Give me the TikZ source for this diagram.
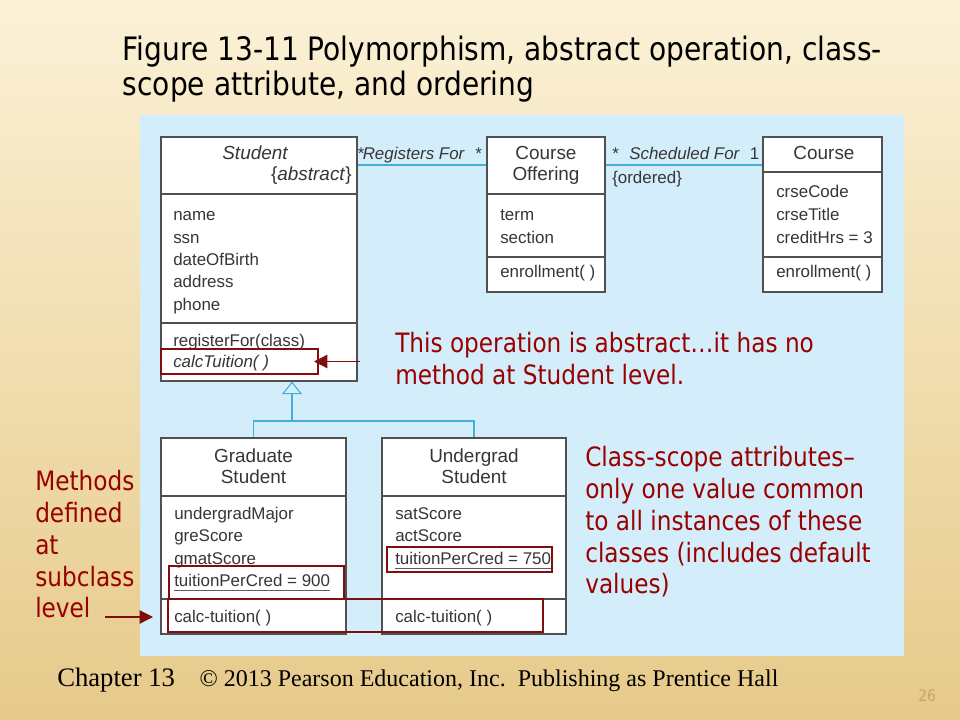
\documentclass[tikz,border=0pt]{standalone}
\usepackage{fontspec}
\setmainfont{Liberation Sans}
\newfontfamily\slidefont{DejaVu Sans}[FakeStretch=0.87]
\newfontfamily\footfont{Liberation Serif}
\usetikzlibrary{fit,arrows.meta}

\definecolor{slideTop}{HTML}{FBF1D6}
\definecolor{slideMid}{HTML}{F1DCA6}
\definecolor{slideBot}{HTML}{E6CA8A}
\definecolor{panelBlue}{HTML}{D3EEFA}
\definecolor{boxGray}{HTML}{505050}
\definecolor{umlText}{HTML}{363636}
\definecolor{linkBlue}{HTML}{45B0D5}
\definecolor{noteRed}{HTML}{990000}
\definecolor{hiRed}{HTML}{7F0F0F}
\definecolor{pageTan}{HTML}{C9A465}

\newcommand\umlfont{\fontsize{12.7}{15}\selectfont}
\newcommand\umlhead{\fontsize{14.2}{17}\selectfont}
\newcommand\notefont{\slidefont\fontsize{20}{24}\selectfont}
\newcommand\headfont{\slidefont\fontsize{24.2}{28}\selectfont}

\tikzset{
	cls/.style={draw=boxGray, fill=white, line width=0.8pt, inner sep=0pt},
	divider/.style={draw=boxGray, line width=0.8pt},
	member/.style={anchor=base west, inner sep=0pt, text=umlText, font=\umlfont},
	hdr/.style={member, anchor=base, font=\umlhead},
	note/.style={anchor=base west, inner sep=0pt, text=noteRed, font=\notefont},
	hilite/.style={draw=hiRed, line width=1.5pt, inner sep=0pt},
	assoc/.style={draw=linkBlue, line width=0.8pt},
	pointer/.style={draw=hiRed, line width=0.9pt, -{Triangle[length=10pt,width=10pt]}},
}

\begin{document}
\begin{tikzpicture}[x=0.75pt,y=-0.75pt]
	\shade[top color=slideTop, middle color=slideMid, bottom color=slideBot] (0,0) rectangle (960,720);
	\fill[panelBlue] (140,115) rectangle (904,656);

	\node[anchor=base west, inner sep=0pt, font=\headfont] (title1) at (122.5,61) {Figure 13-11 Polymorphism, abstract operation, class-};
	\node[anchor=base west, inner sep=0pt, font=\headfont] (title2) at (122.5,95.5) {scope attribute, and ordering};

	\node[cls, fit={(161,137)(357,381)}] (student) {};
	\node[cls, fit={(487,137)(605,292)}] (offering) {};
	\node[cls, fit={(763,137)(882,292)}] (course) {};
	\node[cls, fit={(161,438)(346,634)}] (grad) {};
	\node[cls, fit={(382,438)(566,634)}] (under) {};
	\foreach \xa/\xb/\yy in {161/357/194, 161/357/323, 487/605/194, 487/605/257, 763/882/172, 763/882/257, 161/346/496, 161/346/599, 382/566/496, 382/566/599}
		\draw[divider] (\xa,\yy) -- (\xb,\yy);

	\coordinate (assocY) at (0,165);
	\draw[assoc] (student.east |- assocY) -- (offering.west |- assocY);
	\draw[assoc] (offering.east |- assocY) -- (course.west |- assocY);
	\node[member] (regMany1) at (357.5,160) {*};
	\node[member, font=\umlfont\itshape] (regLbl) at (362.5,160) {Registers For};
	\node[member] (regMany2) at (475,160) {*};
	\node[member] (schMany) at (612,160) {*};
	\node[member, font=\umlfont\itshape] (schLbl) at (629,160) {Scheduled For};
	\node[member] (schOne) at (749.5,160) {1};
	\node[member] (ordLbl) at (612,184) {\{ordered\}};

	\coordinate (gjoin) at (292,421);
	\draw[assoc] (grad.north) |- (gjoin) -| (under.north);
	\draw[assoc, -{Triangle[open, length=9.5pt, width=15pt]}] (gjoin) -- (gjoin |- student.south);

	\node[hdr, font=\umlhead\itshape] (stuName) at (255,160) {Student};
	\node[member, anchor=base east, font=\umlhead] (stuAbs) at (352,181) {\{\textit{abstract}\}};
	\foreach \a [count=\i from 0] in {name,ssn,dateOfBirth,address,phone}
		\node[member] (stuAttr\i) at (173,221+22.3*\i) {\a};
	\node[member] (stuOp1) at (173,346) {registerFor(class)};
	\node[member, font=\umlfont\itshape] (stuOp2) at (173,367) {calcTuition( )};

	\node[hdr] (offName1) at (546,160) {Course};
	\node[hdr] (offName2) at (546,181) {Offering};
	\node[member] (offAttr1) at (500,221) {term};
	\node[member] (offAttr2) at (500,243.5) {section};
	\node[member] (offOp) at (500,278) {enrollment( )};

	\node[hdr] (crsName) at (824,160) {Course};
	\foreach \a [count=\i from 0] in {crseCode,crseTitle,creditHrs = 3}
		\node[member] (crsAttr\i) at (776,198+22.8*\i) {\a};
	\node[member] (crsOp) at (776,278) {enrollment( )};

	\node[hdr] (gradName1) at (253.5,462) {Graduate};
	\node[hdr] (gradName2) at (253.5,483) {Student};
	\foreach \a [count=\i from 0] in {undergradMajor,greScore,gmatScore}
		\node[member] (gradAttr\i) at (174,519+22.5*\i) {\a};
	\node[member] (gradTpc) at (174,586) {tuitionPerCred = 900};
	\node[member] (gradOp) at (174,622) {calc-tuition( )};

	\node[hdr] (underName1) at (474,462) {Undergrad};
	\node[hdr] (underName2) at (474,483) {Student};
	\node[member] (underAttr1) at (395,519) {satScore};
	\node[member] (underAttr2) at (395,541.5) {actScore};
	\node[member] (underTpc) at (395,564) {tuitionPerCred = 750};
	\node[member] (underOp) at (395,622) {calc-tuition( )};

	\draw[draw=umlText!80, line width=0.6pt] ([yshift=-3.5pt]gradTpc.base west) -- ([yshift=-3.5pt]gradTpc.base east);
	\draw[draw=umlText!80, line width=0.6pt] ([yshift=-3.5pt]underTpc.base west) -- ([yshift=-3.5pt]underTpc.base east);

	\node[hilite, fit={(161,349)(318,374)}] (absHL) {};
	\node[hilite, fit={(169,566)(344,599)}] (gradHL) {};
	\node[hilite, fit={(387,547)(552,572)}] (underHL) {};
	\node[hilite, fit={(168,599)(543,632)}] (opsHL) {};

	\coordinate (ptrA) at (360,361.5);
	\draw[pointer] (ptrA) -- ([xshift=-3.75pt]absHL.east);
	\coordinate (ptrB) at (105,617);
	\coordinate (ptrBtip) at (153,617);
	\draw[pointer] (ptrB) -- (ptrBtip);

	\node[note] (absNote1) at (395,352) {This operation is abstract…it has no};
	\node[note] (absNote2) at (395,384) {method at Student level.};
	\foreach \t [count=\i from 0] in {Class-scope attributes–,only one value common,to all instances of these,classes (includes default,values)}
		\node[note] (scopeNote\i) at (585,466.7+31.8*\i) {\t};
	\foreach \t [count=\i from 0] in {Methods,defined,at,subclass,level}
		\node[note] (methNote\i) at (35,490.7+31.8*\i) {\t};

	\node[anchor=base west, inner sep=0pt, font=\footfont\fontsize{20}{24}\selectfont] (chap) at (57,686.7) {Chapter 13};
	\node[anchor=base west, inner sep=0pt, font=\footfont\fontsize{18}{22}\selectfont] (copyr) at (199.3,686.7) {© 2013 Pearson Education, Inc.\ \ Publishing as Prentice Hall};
	\node[anchor=base west, inner sep=0pt, text=pageTan, font=\slidefont\fontsize{12}{14}\selectfont] (pageNo) at (918,701) {26};
\end{tikzpicture}
\end{document}
